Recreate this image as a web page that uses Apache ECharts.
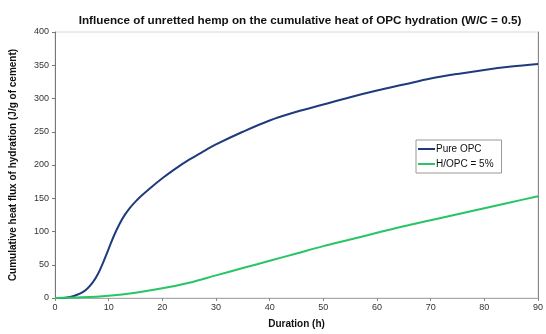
<!DOCTYPE html>
<html>
<head>
<meta charset="utf-8">
<script src="https://cdn.jsdelivr.net/npm/echarts@6/dist/echarts.min.js"></script>
<style>
  html, body { margin: 0; padding: 0; background: #fff; }
  #heatChart { width: 546px; height: 334px; }
</style>
</head>
<body>
<div id="heatChart"></div>
<script>
// data
var pureHours = [0, 1, 2, 3, 4, 5, 6, 7, 8, 9, 10, 11, 12, 13, 14, 15, 16, 18, 20, 22, 25, 28, 30, 35, 40, 45, 50, 55, 60, 65, 70, 75, 80, 85, 90];
var pureOpc = [0, 0, 0.5, 2, 4.5, 8, 14, 23, 36, 54, 74, 94, 111, 125, 136, 145, 153, 167, 180, 192, 208, 222, 231, 250, 267, 280, 291, 302, 312, 321, 330, 337, 343, 348, 352];
var hempHours = [0, 5, 10, 15, 20, 25, 30, 35, 40, 45, 50, 55, 60, 65, 70, 75, 80, 85, 90];
var hempOpc = [0, 1, 3.5, 8, 14.5, 23, 34, 45, 56, 67, 78, 88, 98, 108, 117, 126, 135, 144, 153];
var seriesNames = ['Pure OPC', 'H/OPC = 5%'];

function pairs(xs, ys) {
    return xs.map(function (x, i) { return [x, ys[i]]; });
}

var chart = echarts.init(document.getElementById('heatChart'));
var fontFamily = '"Liberation Sans", Arial, sans-serif';

chart.setOption({
    animation: false,
    textStyle: { fontFamily: fontFamily },
    title: {
        text: 'Influence of unretted hemp on the cumulative heat of OPC hydration (W/C = 0.5)',
        left: 295,
        textAlign: 'center',
        top: 10,
        textStyle: { fontSize: 11.7, fontWeight: 'bold', color: '#111', fontFamily: fontFamily }
    },
    grid: {
        left: 53, right: 2, top: 32, bottom: 36,
        show: true, borderColor: '#d8d8d8', borderWidth: 1
    },
    legend: {
        data: seriesNames,
        orient: 'vertical',
        left: 416, top: 140,
        itemWidth: 17, itemHeight: 2, itemGap: 5,
        padding: [4, 8, 4, 2],
        borderColor: '#999', borderWidth: 1,
        backgroundColor: '#fff',
        icon: 'rect',
        textStyle: { fontSize: 10, color: '#111', padding: [0, 0, 0, -4] }
    },
    xAxis: {
        type: 'value', min: 0, max: 90, interval: 10,
        name: 'Duration (h)', nameLocation: 'middle', nameGap: 21,
        nameTextStyle: { fontSize: 10, fontWeight: 'bold', color: '#111' },
        axisLine: { lineStyle: { color: '#aaa' } },
        axisTick: { show: true, length: 3, lineStyle: { color: '#888' } },
        axisLabel: { fontSize: 9, color: '#333', margin: 5 },
        splitLine: { show: false }
    },
    yAxis: [{
        type: 'value', min: 0, max: 400, interval: 50,
        name: 'Cumulative heat flux of hydration (J/g of cement)',
        nameLocation: 'middle', nameGap: 37,
        nameTextStyle: { fontSize: 10, fontWeight: 'bold', color: '#111' },
        axisLine: { show: true, lineStyle: { color: '#777' } },
        axisTick: { show: true, length: 3, lineStyle: { color: '#777' } },
        axisLabel: { fontSize: 9, color: '#333', margin: 6 },
        splitLine: { show: false }
    }, {
        type: 'value', min: 0, max: 400, interval: 50, position: 'right',
        axisLine: { show: true, lineStyle: { color: '#888' } },
        axisTick: { show: false }, axisLabel: { show: false },
        splitLine: { show: false }
    }],
    series: [{
        name: seriesNames[0], type: 'line', smooth: 0.35, symbol: 'none',
        data: pairs(pureHours, pureOpc),
        lineStyle: { color: '#1f3a7d', width: 2 },
        itemStyle: { color: '#1f3a7d' }
    }, {
        name: seriesNames[1], type: 'line', smooth: 0.35, symbol: 'none',
        data: pairs(hempHours, hempOpc),
        lineStyle: { color: '#27c565', width: 2 },
        itemStyle: { color: '#27c565' }
    }]
});
</script>
</body>
</html>
